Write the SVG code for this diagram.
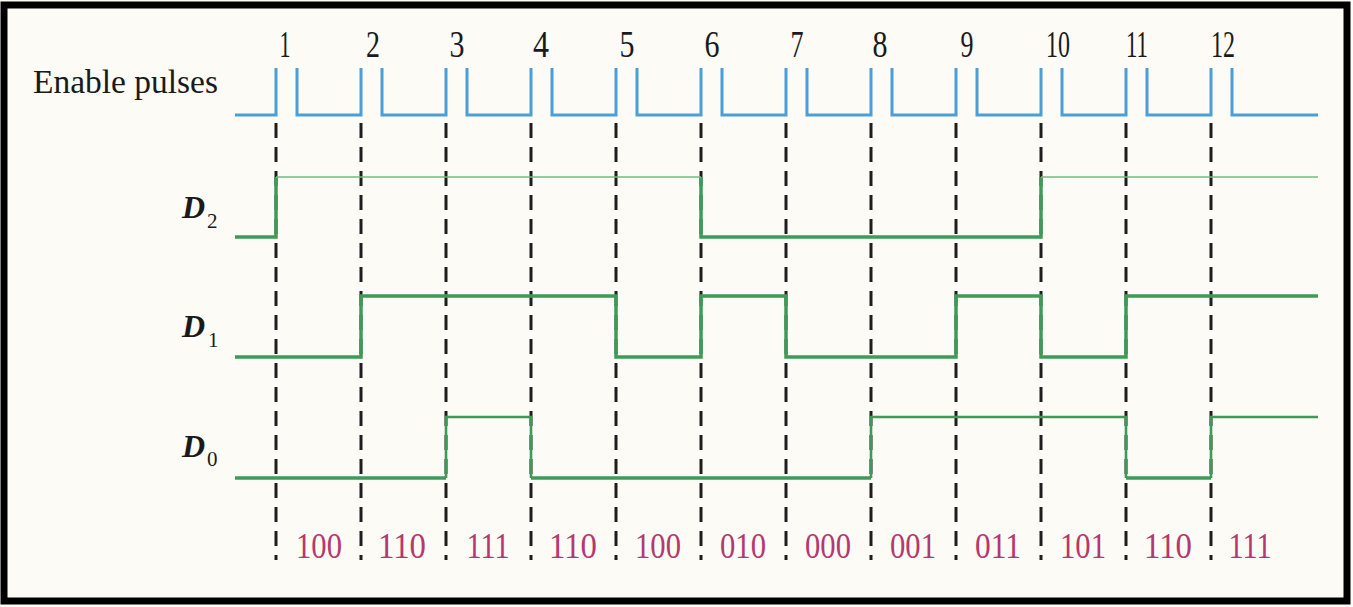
<svg xmlns="http://www.w3.org/2000/svg" width="1353" height="607" viewBox="0 0 1353 607">
<style>
.lbl{font-family:"Liberation Serif","Times New Roman",serif;fill:#1a1a1a}
.num{font-family:"Liberation Serif","Times New Roman",serif;font-size:37px;fill:#1a1a1a;text-anchor:middle}
.code{font-family:"Liberation Serif","Times New Roman",serif;font-size:36px;fill:#b5386f;text-anchor:middle}
.dl{font-family:"Liberation Serif","Times New Roman",serif;font-style:italic;font-weight:bold;font-size:32px;fill:#1a1a1a}
.sub{font-family:"Liberation Serif","Times New Roman",serif;font-size:21px;fill:#1a1a1a}
.dash{stroke:#1e1e1e;stroke-width:3;stroke-dasharray:15 9;fill:none}
.pulse{stroke:#4a9fd6;stroke-width:3;fill:none}
.sig{stroke:#3f9a58;stroke-width:3.5;fill:none}
.thin{stroke:#6cbf85;stroke-width:1.6;fill:none}
</style>
<rect x="0" y="0" width="1353" height="607" fill="#fcfbf6"/>
<rect x="4" y="5" width="1343" height="596" fill="none" stroke="#000" stroke-width="7"/>

<g id="enable-label"><text class="lbl" x="33" y="93" font-size="34" textLength="185" lengthAdjust="spacingAndGlyphs">Enable pulses</text></g>

<g id="pulse-numbers">
<text class="num" x="285" y="57" textLength="11" lengthAdjust="spacingAndGlyphs">1</text>
<text class="num" x="373" y="57" textLength="14" lengthAdjust="spacingAndGlyphs">2</text>
<text class="num" x="457" y="57" textLength="15" lengthAdjust="spacingAndGlyphs">3</text>
<text class="num" x="541" y="57" textLength="16" lengthAdjust="spacingAndGlyphs">4</text>
<text class="num" x="627" y="57" textLength="15" lengthAdjust="spacingAndGlyphs">5</text>
<text class="num" x="712" y="57" textLength="15" lengthAdjust="spacingAndGlyphs">6</text>
<text class="num" x="797" y="57" textLength="13" lengthAdjust="spacingAndGlyphs">7</text>
<text class="num" x="880" y="57" textLength="15" lengthAdjust="spacingAndGlyphs">8</text>
<text class="num" x="967" y="57" textLength="13" lengthAdjust="spacingAndGlyphs">9</text>
<text class="num" x="1058" y="57" textLength="24" lengthAdjust="spacingAndGlyphs">10</text>
<text class="num" x="1137" y="57" textLength="22" lengthAdjust="spacingAndGlyphs">11</text>
<text class="num" x="1223" y="57" textLength="24" lengthAdjust="spacingAndGlyphs">12</text>
</g>

<g id="enable-pulses">
<path class="pulse" d="M235,115 H276 V68 M297,68 V115 H361 V68 M382,68 V115 H446 V68 M467,68 V115 H531 V68 M552,68 V115 H616 V68 M637,68 V115 H701 V68 M722,68 V115 H786 V68 M807,68 V115 H871 V68 M892,68 V115 H956 V68 M977,68 V115 H1041 V68 M1062,68 V115 H1126 V68 M1147,68 V115 H1211 V68 M1232,68 V115 H1318"/>
</g>

<g id="connectors">
<path class="dash" d="M276,123 V560 M361,123 V560 M446,123 V560 M531,123 V560 M616,123 V560 M701,123 V560 M786,123 V560 M871,123 V560 M956,123 V560 M1041,123 V560 M1126,123 V560 M1211,123 V560"/>
</g>

<g id="D2">
<text class="dl" x="182" y="218">D</text><text class="sub" x="207" y="228">2</text>
<path class="sig" d="M235,237 H276 V177 M701,177 V237 H1041 V177"/>
<path class="thin" d="M276,177 H701 M1041,177 H1318"/>
</g>

<g id="D1">
<text class="dl" x="182" y="337">D</text><text class="sub" x="208" y="347">1</text>
<path class="sig" d="M235,357 H361 V296 H616 V357 H701 V296 H786 V357 H956 V296 H1041 V357 H1126 V296 H1318"/>
</g>

<g id="D0">
<text class="dl" x="182" y="457">D</text><text class="sub" x="207" y="466">0</text>
<path class="sig" d="M235,478 H446 M531,478 H871 M1126,478 H1211"/>
<path class="sig" style="stroke-width:2.6" d="M446,478 V417 H531 V478 M871,478 V417 H1126 V478 M1211,478 V417 H1318"/>
</g>

<g id="codes">
<text class="code" x="319" y="558" textLength="46" lengthAdjust="spacingAndGlyphs">100</text>
<text class="code" x="402" y="558" textLength="48" lengthAdjust="spacingAndGlyphs">110</text>
<text class="code" x="488" y="558" textLength="43" lengthAdjust="spacingAndGlyphs">111</text>
<text class="code" x="573" y="558" textLength="48" lengthAdjust="spacingAndGlyphs">110</text>
<text class="code" x="658" y="558" textLength="46" lengthAdjust="spacingAndGlyphs">100</text>
<text class="code" x="743" y="558" textLength="46" lengthAdjust="spacingAndGlyphs">010</text>
<text class="code" x="828" y="558" textLength="46" lengthAdjust="spacingAndGlyphs">000</text>
<text class="code" x="913" y="558" textLength="46" lengthAdjust="spacingAndGlyphs">001</text>
<text class="code" x="998" y="558" textLength="46" lengthAdjust="spacingAndGlyphs">011</text>
<text class="code" x="1083" y="558" textLength="46" lengthAdjust="spacingAndGlyphs">101</text>
<text class="code" x="1168" y="558" textLength="48" lengthAdjust="spacingAndGlyphs">110</text>
<text class="code" x="1250" y="558" textLength="43" lengthAdjust="spacingAndGlyphs">111</text>
</g>
</svg>
